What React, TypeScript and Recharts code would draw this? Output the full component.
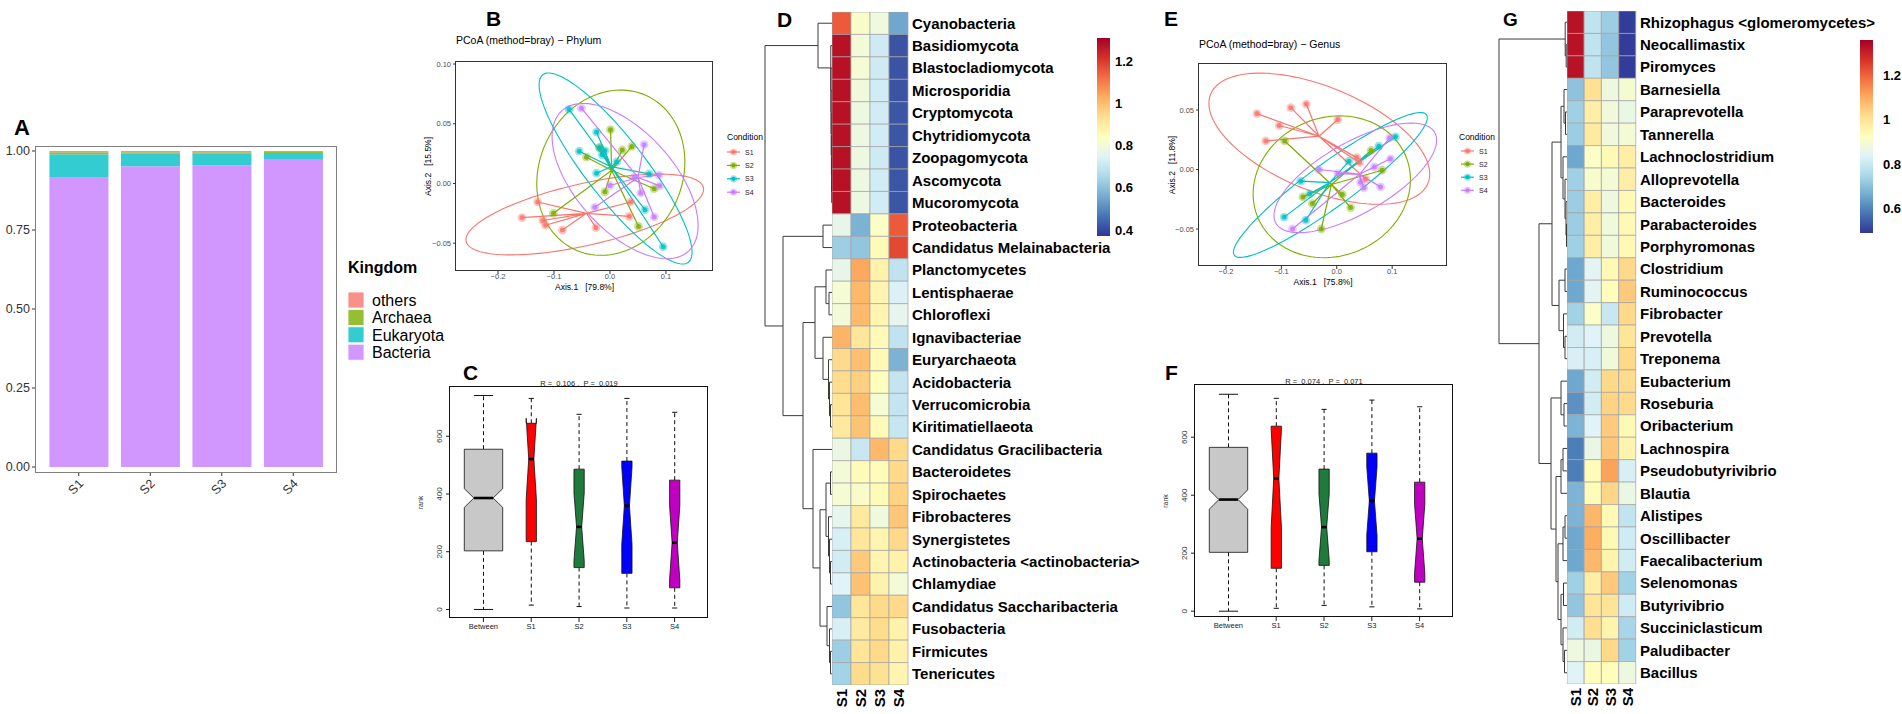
import React from 'react';
import { BarChart, Bar, XAxis, YAxis, Cell, ScatterChart, Scatter, ComposedChart } from 'recharts';

const FONT = '"Liberation Sans", Arial, Helvetica, sans-serif';

// ---------------- Panel A : Kingdom composition ----------------
const kingdomSamples = ['S1', 'S2', 'S3', 'S4'];
const kingdomBacteria = [0.918, 0.952, 0.955, 0.972];
const kingdomEukaryota = [0.072, 0.041, 0.038, 0.022];
const kingdomArchaea = [0.006, 0.003, 0.003, 0.003];
const kingdomOthers = [0.004, 0.004, 0.004, 0.003];
const kingdomTicks = [0, 0.25, 0.5, 0.75, 1];
const kingdomLegend = ['others', 'Archaea', 'Eukaryota', 'Bacteria'];
const kingdomColors: Record<string, string> = {
  others: '#F9918A',
  Archaea: '#96BE33',
  Eukaryota: '#33CCD0',
  Bacteria: '#D296FF',
};

// ---------------- Panels B / E : PCoA ----------------
const conditionNames = ['S1', 'S2', 'S3', 'S4'];
const conditionColors = ['#F8766D', '#7CAE00', '#00BFC4', '#C77CFF'];

const phylumPcoaS1 = [[-0.129, -0.0155], [-0.157, -0.0286], [-0.12, -0.031], [-0.115, -0.035], [-0.085, -0.039], [-0.025, -0.037], [0.0345, -0.0275], [0.037, -0.0155]];
const phylumPcoaS2 = [[0.001, 0.045], [-0.042, 0.022], [-0.019, 0.03], [0.022, 0.028], [0.039, 0.031], [-0.009, -0.007], [-0.101, -0.025], [0.051, -0.036], [0.079, -0.0044]];
const phylumPcoaS3 = [[-0.073, 0.062], [-0.024, 0.043], [-0.055, 0.027], [-0.018, 0.03], [-0.009, 0.0275], [-0.014, 0.024], [0.012, 0.018], [-0.024, 0.0086], [0.07, 0.008], [0.0625, -0.022], [0.095, -0.053]];
const phylumPcoaS4 = [[-0.051, 0.063], [0.061, 0.0325], [0.043, 0.005], [0.0875, 0.007], [0.0, -0.0017], [0.055, -0.008], [-0.027, -0.02], [0.079, -0.028], [0.089, -0.002]];
const phylumCentroids = [[-0.042, -0.025], [0.003, 0.011], [0.002, 0.014], [0.05, 0.005]];
const phylumEllipses = [
  { c: [-0.045, -0.026], u: [0.2, 0.011], v: [0.071, 0.032] },
  { c: [0.0015, 0.009], u: [0.132, 0.005], v: [0.008, 0.069] },
  { c: [0.01, 0.0125], u: [0.13, -0.0785], v: [0.042, 0.0153] },
  { c: [0.027, 0.002], u: [-0.11, 0.06], v: [0.07, 0.025] },
];

const genusPcoaS1 = [[-0.144, 0.047], [-0.128, 0.024], [-0.104, 0.037], [-0.083, 0.052], [-0.055, 0.055], [0.002, 0.042], [0.041, 0.006], [0.052, -0.008], [0.036, 0.01]];
const genusPcoaS2 = [[-0.094, 0.024], [-0.061, -0.023], [-0.044, -0.0286], [-0.028, -0.05], [0.01, -0.021], [0.025, -0.032], [0.062, 0.016], [0.082, -0.0006]];
const genusPcoaS3 = [[-0.065, -0.0098], [-0.049, -0.0204], [-0.095, -0.04], [-0.056, -0.0426], [0.022, 0.007], [0.076, 0.0196], [0.106, 0.0275]];
const genusPcoaS4 = [[0.0955, 0.0266], [0.097, 0.009], [0.068, 0.0022], [0.043, -0.0107], [0.049, -0.0154], [0.079, -0.0146], [0.002, -0.0034], [-0.032, 0], [-0.08, -0.05]];
const genusCentroids = [[-0.032, 0.028], [-0.0096, -0.0126], [-0.0126, -0.011], [0.041, -0.004]];
const genusEllipses = [
  { c: [-0.0315, 0.0259], u: [0.1975, -0.0357], v: [0.027, 0.042] },
  { c: [-0.009, -0.0145], u: [0.142, 0.006], v: [0.0, 0.0593] },
  { c: [-0.0115, -0.013], u: [0.1735, 0.059], v: [0.023, -0.015] },
  { c: [0.0335, -0.007], u: [0.1435, 0.038], v: [0.031, -0.026] },
];

// ---------------- Panels C / F : ANOSIM boxplots ----------------
const boxGroups = ['Between', 'S1', 'S2', 'S3', 'S4'];
const boxN = [294, 21, 21, 21, 21];
const boxColors = ['#C8C8C8', '#FF0000', '#1E7B3C', '#0000FF', '#C000C0'];
const phylumBoxLow = [0, 15, 10, 5, 5];
const phylumBoxQ1 = [203, 235, 145, 125, 75];
const phylumBoxMed = [386, 521, 286, 359, 231];
const phylumBoxQ3 = [555, 645, 486, 514, 448];
const phylumBoxHigh = [741, 731, 676, 731, 683];
const genusBoxLow = [0, 10, 20, 15, 8];
const genusBoxQ1 = [203, 148, 158, 205, 100];
const genusBoxMed = [385, 458, 290, 380, 250];
const genusBoxQ3 = [565, 638, 490, 545, 445];
const genusBoxHigh = [748, 734, 696, 728, 705];
const rankTicks = [0, 200, 400, 600];

// ---------------- Panels D / G : heatmaps ----------------
const heatSamples = ['S1', 'S2', 'S3', 'S4'];
const phylumNames = ['Cyanobacteria', 'Basidiomycota', 'Blastocladiomycota', 'Microsporidia', 'Cryptomycota', 'Chytridiomycota', 'Zoopagomycota', 'Ascomycota', 'Mucoromycota', 'Proteobacteria', 'Candidatus Melainabacteria', 'Planctomycetes', 'Lentisphaerae', 'Chloroflexi', 'Ignavibacteriae', 'Euryarchaeota', 'Acidobacteria', 'Verrucomicrobia', 'Kiritimatiellaeota', 'Candidatus Gracilibacteria', 'Bacteroidetes', 'Spirochaetes', 'Fibrobacteres', 'Synergistetes', 'Actinobacteria <actinobacteria>', 'Chlamydiae', 'Candidatus Saccharibacteria', 'Fusobacteria', 'Firmicutes', 'Tenericutes'];
const phylumS1 = [1.15, 1.275, 1.275, 1.275, 1.275, 1.275, 1.275, 1.275, 1.275, 0.77, 0.63, 0.77, 0.81, 0.8, 1.017, 0.943, 0.94, 0.92, 0.906, 0.78, 0.8, 0.81, 0.764, 0.732, 0.722, 0.745, 0.611, 0.732, 0.63, 0.64];
const phylumS2 = [0.82, 0.8, 0.81, 0.795, 0.785, 0.785, 0.785, 0.785, 0.785, 0.573, 0.61, 1.037, 1.01, 1.005, 0.915, 0.994, 0.965, 1.0, 0.988, 0.704, 0.85, 0.82, 0.905, 0.915, 0.977, 0.99, 0.915, 0.9, 0.92, 0.941];
const phylumS3 = [0.79, 0.716, 0.716, 0.72, 0.72, 0.72, 0.715, 0.72, 0.72, 0.83, 0.855, 0.88, 0.87, 0.87, 0.855, 0.86, 0.845, 0.81, 0.855, 1.01, 0.85, 0.855, 0.79, 0.87, 0.87, 0.88, 0.945, 0.94, 0.946, 0.928];
const phylumS4 = [0.55, 0.415, 0.415, 0.415, 0.42, 0.42, 0.415, 0.42, 0.42, 1.15, 1.178, 0.69, 0.74, 0.764, 0.69, 0.573, 0.698, 0.698, 0.7, 0.945, 0.946, 0.958, 0.982, 0.948, 0.88, 0.8, 0.946, 0.88, 0.88, 0.87];
const phylumRange = [0.372, 1.309];
const phylumBarTicks = [0.4, 0.6, 0.8, 1, 1.2];

const genusNames = ['Rhizophagus <glomeromycetes>', 'Neocallimastix', 'Piromyces', 'Barnesiella', 'Paraprevotella', 'Tannerella', 'Lachnoclostridium', 'Alloprevotella', 'Bacteroides', 'Parabacteroides', 'Porphyromonas', 'Clostridium', 'Ruminococcus', 'Fibrobacter', 'Prevotella', 'Treponema', 'Eubacterium', 'Roseburia', 'Oribacterium', 'Lachnospira', 'Pseudobutyrivibrio', 'Blautia', 'Alistipes', 'Oscillibacter', 'Faecalibacterium', 'Selenomonas', 'Butyrivibrio', 'Succiniclasticum', 'Paludibacter', 'Bacillus'];
const genusS1 = [1.325, 1.325, 1.325, 0.705, 0.733, 0.726, 0.655, 0.733, 0.726, 0.726, 0.733, 0.655, 0.655, 0.736, 0.814, 0.824, 0.655, 0.62, 0.677, 0.59, 0.59, 0.677, 0.677, 0.655, 0.655, 0.733, 0.712, 0.814, 0.876, 0.837];
const genusS2 = [0.783, 0.783, 0.783, 1.005, 0.97, 0.98, 0.913, 0.904, 0.97, 0.97, 0.97, 0.846, 0.846, 0.913, 0.837, 0.824, 0.814, 0.814, 0.837, 0.865, 0.933, 0.933, 1.081, 1.097, 1.078, 0.97, 0.997, 1.01, 0.865, 0.929];
const genusS3 = [0.726, 0.712, 0.712, 0.876, 0.882, 0.879, 0.94, 0.89, 0.876, 0.882, 0.882, 0.94, 0.929, 0.798, 0.876, 0.882, 1.022, 1.033, 1.047, 1.055, 1.113, 1.027, 0.94, 0.94, 0.955, 1.05, 1.0, 0.955, 1.022, 0.929];
const genusS4 = [0.5, 0.5, 0.5, 0.896, 0.865, 0.89, 0.97, 0.97, 0.94, 0.94, 0.94, 1.022, 1.05, 1.022, 0.997, 1.022, 1.017, 1.02, 0.94, 0.955, 0.824, 0.865, 0.787, 0.809, 0.814, 0.736, 0.809, 0.745, 0.736, 0.876];
const genusRange = [0.49, 1.357];
const genusBarTicks = [0.6, 0.8, 1, 1.2];

// dendrograms: [left, right, mergeHeight], leaves are row indices
const phylumTree = [
  [0, [1, [2, [3, [4, [5, [6, [7, 8, 0.3], 0.45], 0.6], 0.75], 0.9], 1.05], 1.2], 14],
  [
    [9, 10, 9],
    [
      [[11, [12, 13, 3], 6], [14, [15, [16, [17, 18, 1.5], 2.5], 3.5], 9], 17],
      [19, [[[20, 21, 1.5], [22, [23, [24, 25, 1.5], 2.5], 3.5], 6], [26, [27, [28, 29, 1.5], 2.5], 5], 12], 19],
      29,
    ],
    49,
  ],
  67,
];
const genusTree = [
  [0, [1, 2, 0.8], 1.8],
  [
    [
      [[3, [4, 5, 1.5], 3], [6, [7, [8, [9, 10, 0.5], 1], 2], 4], 6],
      [[11, 12, 2], [13, [14, 15, 2], 3.5], 8],
      15,
    ],
    [
      [16, [17, 18, 3], 6],
      [
        [[19, 20, 4], 21, 6],
        [[[22, 23, 2], 24, 4], [[25, 26, 3.5], [27, [28, 29, 2.5], 4], 6], 9],
        11,
      ],
      16,
    ],
    28,
  ],
  68,
];

// ---------------- helpers ----------------
const RDYLBU = ['#313695', '#4575B4', '#74ADD1', '#ABD9E9', '#E0F3F8', '#FFFFBF', '#FEE090', '#FDAE61', '#F46D43', '#D73027', '#A50026'];
function hexToRgb(h: string) {
  const n = parseInt(h.slice(1), 16);
  return [(n >> 16) & 255, (n >> 8) & 255, n & 255];
}
function heatColor(v: number, lo: number, hi: number) {
  let t = (v - lo) / (hi - lo);
  t = Math.max(0, Math.min(1, t));
  const s = t * (RDYLBU.length - 1);
  const i = Math.min(RDYLBU.length - 2, Math.floor(s));
  const f = s - i;
  const a = hexToRgb(RDYLBU[i]);
  const b = hexToRgb(RDYLBU[i + 1]);
  const c = a.map((x, k) => Math.round(x + (b[k] - x) * f));
  return `rgb(${c[0]},${c[1]},${c[2]})`;
}
const Nothing = () => <g />;
function layoutTree(t: any, links: any[]): { y: number; h: number } {
  if (typeof t === 'number') return { y: t + 0.5, h: 0 };
  const a = layoutTree(t[0], links);
  const b = layoutTree(t[1], links);
  const h = t[2];
  links.push([{ x: a.h, y: a.y }, { x: h, y: a.y }, { x: h, y: b.y }, { x: b.h, y: b.y }]);
  return { y: (a.y + b.y) / 2, h };
}
function ellipsePoints(e: any) {
  const pts: any[] = [];
  for (let k = 0; k <= 120; k++) {
    const t = (k / 120) * 2 * Math.PI;
    pts.push({ x: e.c[0] + e.u[0] * Math.cos(t) + e.v[0] * Math.sin(t), y: e.c[1] + e.u[1] * Math.cos(t) + e.v[1] * Math.sin(t) });
  }
  return pts;
}
function spiderPoints(c: number[], pts: number[][]) {
  const out: any[] = [];
  pts.forEach((p) => {
    out.push({ x: c[0], y: c[1] });
    out.push({ x: p[0], y: p[1] });
  });
  out.push({ x: c[0], y: c[1] });
  return out;
}
const fmtSigned = (d: number) => (v: number) => (v < 0 ? '\u2212' : '') + Math.abs(v).toFixed(d);
const dotShape = (color: string) => (p: any) => (
  <g>
    <circle cx={p.cx} cy={p.cy} r={4.4} fill={color} fillOpacity={0.4} />
    <circle cx={p.cx} cy={p.cy} r={2.5} fill={color} fillOpacity={0.85} />
  </g>
);

// ---------------- chart components ----------------
const SlantTick = (p: any) => {
  const x = p.x - 1;
  const y = p.y;
  return (
    <text x={x} y={y} transform={`rotate(-45 ${x} ${y})`} textAnchor="end" dy="0.72em" fontSize={12.5} fill="#333">
      {p.payload.value}
    </text>
  );
};

function KingdomChart() {
  const data = kingdomSamples.map((s, i) => ({
    sample: s,
    Bacteria: kingdomBacteria[i],
    Eukaryota: kingdomEukaryota[i],
    Archaea: kingdomArchaea[i],
    others: kingdomOthers[i],
  }));
  return (
    <div style={{ position: 'absolute', left: 0, top: 130 }}>
      <BarChart width={346} height={382} data={data} margin={{ top: 17, right: 10, left: 0, bottom: 0 }} barCategoryGap="9%">
        <XAxis dataKey="sample" padding={{ left: 7, right: 7 }} height={40} axisLine={false} tickSize={4} tickLine={{ stroke: '#333' }} interval={0} tick={<SlantTick />} />
        <YAxis type="number" domain={[-0.0158, 1.0127]} allowDataOverflow ticks={kingdomTicks} tickFormatter={(v: number) => v.toFixed(2)} width={36} axisLine={false} tickSize={4} tickMargin={2} tickLine={{ stroke: '#333' }} tick={{ fontSize: 12.5, fill: '#333' }} interval={0} />
        {['Bacteria', 'Eukaryota', 'Archaea', 'others'].map((k) => (
          <Bar key={k} dataKey={k} stackId="k" fill={kingdomColors[k]} isAnimationActive={false} />
        ))}
      </BarChart>
    </div>
  );
}

function PcoaChart(props: any) {
  const { left, top, plotW, plotH, xDomain, yDomain, xTicks, yTicks, groups, centroids, ellipses } = props;
  const W = 56 + plotW + 10;
  const H = 12 + plotH + 30;
  return (
    <div style={{ position: 'absolute', left, top }}>
      <ScatterChart width={W} height={H} margin={{ top: 12, right: 10, left: 0, bottom: 0 }}>
        <XAxis type="number" dataKey="x" domain={xDomain} allowDataOverflow ticks={xTicks} tickFormatter={fmtSigned(1)} height={30} axisLine={false} tickSize={3} tickMargin={0} tickLine={{ stroke: '#333' }} tick={{ fontSize: 7.5, fill: '#4D4D4D' }} interval={0} />
        <YAxis type="number" dataKey="y" domain={yDomain} allowDataOverflow ticks={yTicks} tickFormatter={fmtSigned(2)} width={56} axisLine={false} tickSize={3} tickMargin={2} tickLine={{ stroke: '#333' }} tick={{ fontSize: 7.5, fill: '#4D4D4D' }} interval={0} />
        {ellipses.map((e: any, g: number) => (
          <Scatter key={'e' + g} data={ellipsePoints(e)} line={{ stroke: conditionColors[g], strokeWidth: 1.1, fill: 'none' }} shape={Nothing} isAnimationActive={false} />
        ))}
        {groups.map((pts: number[][], g: number) => (
          <Scatter key={'s' + g} data={spiderPoints(centroids[g], pts)} line={{ stroke: conditionColors[g], strokeWidth: 1.2, fill: 'none' }} shape={Nothing} isAnimationActive={false} />
        ))}
        {groups.map((pts: number[][], g: number) => (
          <Scatter key={'p' + g} data={pts.map(([x, y]) => ({ x, y }))} shape={dotShape(conditionColors[g])} isAnimationActive={false} />
        ))}
      </ScatterChart>
    </div>
  );
}

const maxBoxN = Math.max(...boxN);
function BoxShape(p: any) {
  const { x, y, width, height, payload: d } = p;
  if (!d) return <g />;
  const top = Math.min(y, y + height);
  const k = Math.abs(height) / (d.q3 - d.q1);
  const py = (v: number) => top + (d.q3 - v) * k;
  const cx = x + width / 2;
  const hw = 0.4 * Math.sqrt(d.n / maxBoxN) * width;
  const nh = (1.58 * (d.q3 - d.q1)) / Math.sqrt(d.n);
  const cl = d.med - nh;
  const ch = d.med + nh;
  const pts = [[cx - hw, d.q1], [cx + hw, d.q1], [cx + hw, cl], [cx + hw * 0.5, d.med], [cx + hw, ch], [cx + hw, d.q3], [cx - hw, d.q3], [cx - hw, ch], [cx - hw * 0.5, d.med], [cx - hw, cl]];
  const path = pts.map(([px, v], i) => `${i ? 'L' : 'M'}${px},${py(v)}`).join(' ') + ' Z';
  const sw = hw * 0.5;
  return (
    <g>
      <line x1={cx} x2={cx} y1={py(d.q3)} y2={py(d.high)} stroke="#111" strokeWidth={1} strokeDasharray="4 3" />
      <line x1={cx} x2={cx} y1={py(d.q1)} y2={py(d.low)} stroke="#111" strokeWidth={1} strokeDasharray="4 3" />
      <line x1={cx - sw} x2={cx + sw} y1={py(d.high)} y2={py(d.high)} stroke="#111" strokeWidth={1} />
      <line x1={cx - sw} x2={cx + sw} y1={py(d.low)} y2={py(d.low)} stroke="#111" strokeWidth={1} />
      <path d={path} fill={d.color} stroke="#111" strokeWidth={0.8} />
      <line x1={cx - hw * 0.5} x2={cx + hw * 0.5} y1={py(d.med)} y2={py(d.med)} stroke="#000" strokeWidth={2.6} />
    </g>
  );
}
const RotYTick = (p: any) => (
  <text x={p.x} y={p.y} transform={`rotate(-90 ${p.x} ${p.y})`} textAnchor="middle" fontSize={8} fill="#333">
    {p.payload.value}
  </text>
);

function BoxChart(props: any) {
  const { left, top, plotH, domain, low, q1, med, q3, high } = props;
  const data = boxGroups.map((g, i) => ({ group: g, low: low[i], q1: q1[i], med: med[i], q3: q3[i], high: high[i], n: boxN[i], color: boxColors[i] }));
  return (
    <div style={{ position: 'absolute', left, top }}>
      <ComposedChart width={318} height={10 + plotH + 30} data={data} margin={{ top: 10, right: 10, left: 0, bottom: 0 }} barCategoryGap={0} barGap={0}>
        <XAxis dataKey="group" padding={{ left: 9.5, right: 9.5 }} height={30} axisLine={false} tickSize={4} tickMargin={2} tickLine={{ stroke: '#222' }} tick={{ fontSize: 7.5, fill: '#222' }} interval={0} />
        <YAxis type="number" domain={domain} allowDataOverflow ticks={rankTicks} width={50} axisLine={false} tickSize={4} tickMargin={4} tickLine={{ stroke: '#222' }} tick={<RotYTick />} interval={0} />
        <Bar dataKey={(d: any) => [d.q1, d.q3]} shape={(p: any) => <BoxShape {...p} />} isAnimationActive={false} />
      </ComposedChart>
    </div>
  );
}

const RowTick = (p: any) => (
  <text x={p.x} y={p.y} dy="0.36em" textAnchor="start" fontSize={15} fontWeight="bold" fill="#000">
    {p.names[Math.floor(p.payload.value)]}
  </text>
);
const ColTick = (p: any) => (
  <text x={p.x} y={p.y} transform={`rotate(-90 ${p.x} ${p.y})`} textAnchor="end" dy="0.36em" fontSize={15} fontWeight="bold" fill="#000">
    {p.payload.value}
  </text>
);

function HeatChart(props: any) {
  const { left, top, plotW, names, cols, range, yAxisWidth } = props;
  const data = heatSamples.map((s) => {
    const o: any = { sample: s };
    names.forEach((_: string, i: number) => {
      o['r' + i] = 1;
    });
    return o;
  });
  return (
    <div style={{ position: 'absolute', left, top: 0 }}>
      <BarChart width={plotW + yAxisWidth} height={714} data={data} margin={{ top, right: 0, left: 0, bottom: 0 }} barCategoryGap={0} barGap={0}>
        <XAxis dataKey="sample" height={714 - top - 673} axisLine={false} tickLine={false} tickSize={0} tickMargin={4} interval={0} tick={<ColTick />} />
        <YAxis orientation="right" type="number" domain={[0, names.length]} reversed allowDataOverflow ticks={names.map((_: string, i: number) => i + 0.5)} width={yAxisWidth} axisLine={false} tickLine={false} tickSize={0} tickMargin={4} interval={0} tick={<RowTick names={names} />} />
        {names.map((n: string, i: number) => (
          <Bar key={n} dataKey={'r' + i} stackId="h" isAnimationActive={false} stroke="#A3A3A3" strokeWidth={0.7}>
            {cols.map((c: number[], j: number) => (
              <Cell key={j} fill={heatColor(c[i], range[0], range[1])} />
            ))}
          </Bar>
        ))}
      </BarChart>
    </div>
  );
}

function ColorBar(props: any) {
  const { left, top, plotH, range, ticks, id, labelGap, axisW } = props;
  const data = [{ k: 'bar', v: [range[0], range[1]] }];
  return (
    <div style={{ position: 'absolute', left, top: 0 }}>
      <BarChart width={13 + axisW} height={top + plotH + 4} data={data} margin={{ top, right: 0, left: 0, bottom: 4 }} barCategoryGap={0}>
        <defs>
          <linearGradient id={id} x1="0" y1="1" x2="0" y2="0">
            {RDYLBU.map((c, i) => (
              <stop key={i} offset={i / (RDYLBU.length - 1)} stopColor={c} />
            ))}
          </linearGradient>
        </defs>
        <XAxis dataKey="k" hide />
        <YAxis orientation="right" type="number" domain={[range[0], range[1]]} allowDataOverflow ticks={ticks} width={axisW} axisLine={false} tickLine={false} tickSize={0} tickMargin={labelGap} tick={{ fontSize: 13, fontWeight: 'bold', fill: '#000' }} tickFormatter={(v: number) => String(v)} interval={0} />
        <Bar dataKey="v" fill={`url(#${id})`} isAnimationActive={false} />
      </BarChart>
    </div>
  );
}

function Dendro(props: any) {
  const { left, top, bottom, tree, nLeaves } = props;
  const links: any[] = [];
  layoutTree(tree, links);
  return (
    <div style={{ position: 'absolute', left, top: 0 }}>
      <ScatterChart width={77} height={714} margin={{ top, right: 0, left: 0, bottom }}>
        <XAxis type="number" dataKey="x" domain={[0, 77]} reversed hide allowDataOverflow />
        <YAxis type="number" dataKey="y" domain={[0, nLeaves]} reversed hide allowDataOverflow />
        {links.map((l, i) => (
          <Scatter key={i} data={l} line={{ stroke: '#3A3A3A', strokeWidth: 1, fill: 'none' }} shape={Nothing} isAnimationActive={false} />
        ))}
      </ScatterChart>
    </div>
  );
}

// ---------------- overlay (labels, legends, frames) ----------------
function Overlay() {
  const bold = { fontFamily: FONT, fontWeight: 'bold' as const, fill: '#000' };
  const pre = { whiteSpace: 'pre' as const };
  const condLegend = (x0: number, y0: number, step: number) =>
    conditionNames.map((n, i) => {
      const y = y0 + i * step;
      return (
        <g key={n}>
          <line x1={x0} x2={x0 + 13} y1={y} y2={y} stroke={conditionColors[i]} strokeWidth={1.2} />
          <circle cx={x0 + 6.5} cy={y} r={3.6} fill={conditionColors[i]} fillOpacity={0.4} />
          <circle cx={x0 + 6.5} cy={y} r={2.1} fill={conditionColors[i]} />
          <text x={x0 + 18} y={y + 2.5} fontSize={7} fill="#222">
            {n}
          </text>
        </g>
      );
    });
  return (
    <svg width={1902} height={714} style={{ position: 'absolute', left: 0, top: 0, pointerEvents: 'none', fontFamily: FONT }}>
      {/* panel letters */}
      <text x={14} y={135} fontSize={22} {...bold}>A</text>
      <text x={486} y={26} fontSize={21} {...bold}>B</text>
      <text x={463} y={380} fontSize={21} {...bold}>C</text>
      <text x={777} y={27} fontSize={21} {...bold}>D</text>
      <text x={1164} y={26} fontSize={21} {...bold}>E</text>
      <text x={1165} y={380} fontSize={21} {...bold}>F</text>
      <text x={1503} y={26} fontSize={19} {...bold}>G</text>

      {/* frames */}
      <rect x={35.5} y={146.5} width={301} height={326} fill="none" stroke="#7F7F7F" strokeWidth={1} />
      <rect x={455.5} y={61.5} width={257} height={209} fill="none" stroke="#333" strokeWidth={1} />
      <rect x={1198.5} y={63.5} width={248} height={202} fill="none" stroke="#333" strokeWidth={1} />
      <rect x={449.5} y={386.5} width={258} height={231} fill="none" stroke="#111" strokeWidth={1} />
      <rect x={1194.5} y={384.5} width={258} height={232} fill="none" stroke="#111" strokeWidth={1} />

      {/* Kingdom legend */}
      <text x={348} y={273} fontSize={16} {...bold}>Kingdom</text>
      {kingdomLegend.map((k, i) => (
        <g key={k}>
          <rect x={348} y={292 + i * 17.4} width={16} height={16} fill={kingdomColors[k]} stroke="#fff" strokeWidth={0.8} />
          <text x={372} y={306 + i * 17.4} fontSize={16} fill="#000">{k}</text>
        </g>
      ))}

      {/* PCoA titles */}
      <text x={456} y={44} fontSize={10.5} fill="#000">PCoA (method=bray) − Phylum</text>
      <text x={584.5} y={290} fontSize={8.5} textAnchor="middle" fill="#000" style={pre}>Axis.1   [79.8%]</text>
      <text x={431} y={166.5} fontSize={8.5} textAnchor="middle" fill="#000" transform="rotate(-90 431 166.5)" style={pre}>Axis.2   [15.5%]</text>
      <text x={727} y={140} fontSize={8.5} fill="#000">Condition</text>
      {condLegend(727, 152, 13.4)}

      <text x={1199} y={48} fontSize={10.5} fill="#000">PCoA (method=bray) − Genus</text>
      <text x={1323} y={285} fontSize={8.5} textAnchor="middle" fill="#000" style={pre}>Axis.1   [75.8%]</text>
      <text x={1175} y={165} fontSize={8.5} textAnchor="middle" fill="#000" transform="rotate(-90 1175 165)" style={pre}>Axis.2   [11.8%]</text>
      <text x={1459} y={140} fontSize={8.5} fill="#000">Condition</text>
      {condLegend(1461, 151, 13.1)}

      {/* boxplot titles */}
      <text x={579} y={385.5} fontSize={7.5} textAnchor="middle" fill="#222" style={pre}>R =  0.106 ,  P =  0.019</text>
      <text x={422.5} y={502.5} fontSize={7} textAnchor="middle" fill="#333" transform="rotate(-90 422.5 502.5)">rank</text>
      <text x={1324} y={383.5} fontSize={7.5} textAnchor="middle" fill="#222" style={pre}>R =  0.074 ,  P =  0.071</text>
      <text x={1167.5} y={501} fontSize={7} textAnchor="middle" fill="#333" transform="rotate(-90 1167.5 501)">rank</text>
    </svg>
  );
}

export default function App() {
  return (
    <div style={{ position: 'absolute', left: 0, top: 0, width: 1902, height: 714, overflow: 'hidden', background: '#fff', fontFamily: FONT }}>
      <KingdomChart />
      <PcoaChart
        left={400}
        top={50}
        plotW={257}
        plotH={209}
        xDomain={[-0.275, 0.184]}
        yDomain={[-0.0733, 0.1017]}
        xTicks={[-0.2, -0.1, 0, 0.1]}
        yTicks={[-0.05, 0, 0.05, 0.1]}
        groups={[phylumPcoaS1, phylumPcoaS2, phylumPcoaS3, phylumPcoaS4]}
        centroids={phylumCentroids}
        ellipses={phylumEllipses}
      />
      <PcoaChart
        left={1143}
        top={52}
        plotW={248}
        plotH={202}
        xDomain={[-0.2487, 0.199]}
        yDomain={[-0.0811, 0.0887]}
        xTicks={[-0.2, -0.1, 0, 0.1]}
        yTicks={[-0.05, 0, 0.05]}
        groups={[genusPcoaS1, genusPcoaS2, genusPcoaS3, genusPcoaS4]}
        centroids={genusCentroids}
        ellipses={genusEllipses}
      />
      <BoxChart left={400} top={377} plotH={231} domain={[-29.6, 770.6]} low={phylumBoxLow} q1={phylumBoxQ1} med={phylumBoxMed} q3={phylumBoxQ3} high={phylumBoxHigh} />
      <BoxChart left={1145} top={375} plotH={232} domain={[-20, 780]} low={genusBoxLow} q1={genusBoxQ1} med={genusBoxMed} q3={genusBoxQ3} high={genusBoxHigh} />
      <Dendro left={755} top={12} bottom={29} tree={phylumTree} nLeaves={30} />
      <HeatChart left={832} top={12} plotW={76} names={phylumNames} cols={[phylumS1, phylumS2, phylumS3, phylumS4]} range={phylumRange} yAxisWidth={250} />
      <ColorBar left={1097} top={38} plotH={198} range={phylumRange} ticks={phylumBarTicks} id="gradPhylum" labelGap={5} axisW={40} />
      <Dendro left={1490} top={11} bottom={30} tree={genusTree} nLeaves={30} />
      <HeatChart left={1567} top={11} plotW={69} names={genusNames} cols={[genusS1, genusS2, genusS3, genusS4]} range={genusRange} yAxisWidth={266} />
      <ColorBar left={1860} top={40} plotH={193} range={genusRange} ticks={genusBarTicks} id="gradGenus" labelGap={10} axisW={29} />
      <Overlay />
    </div>
  );
}
